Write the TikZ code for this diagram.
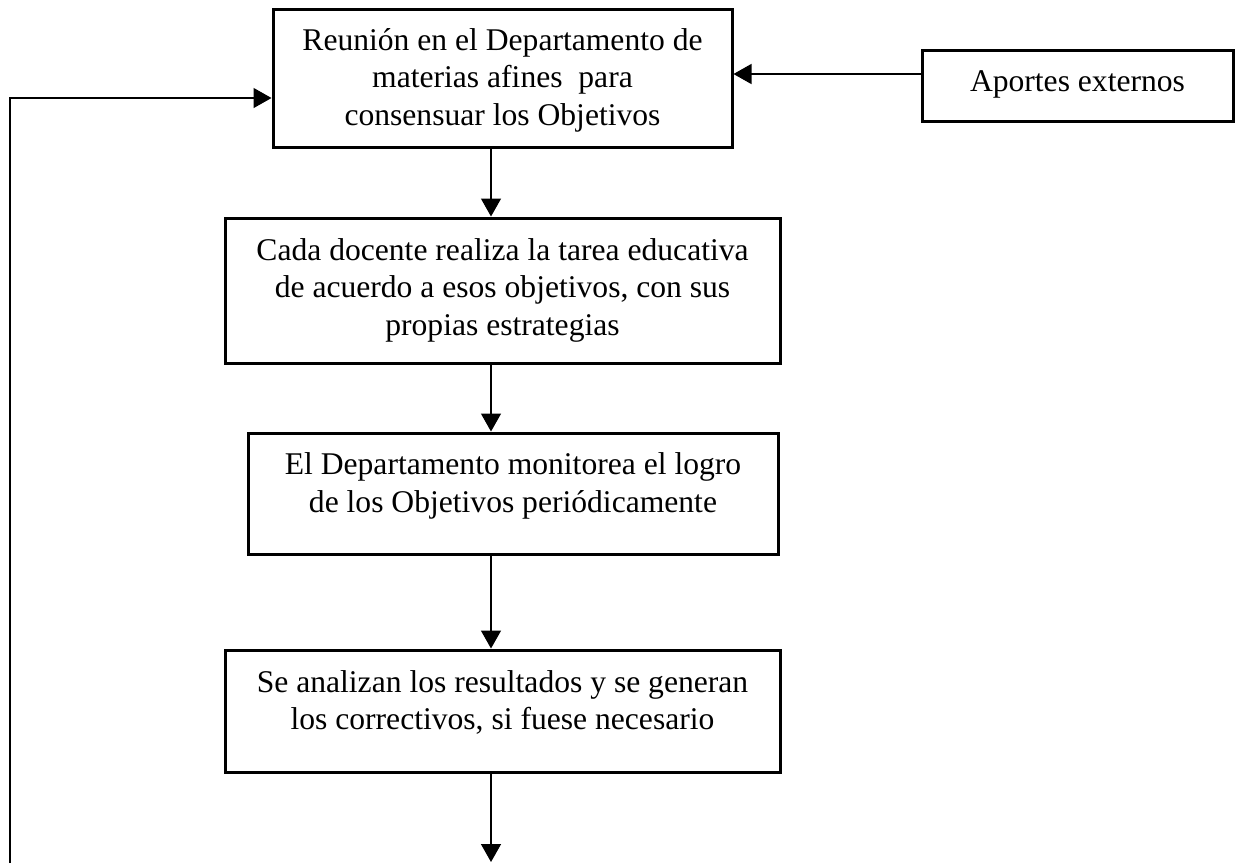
\documentclass[tikz,border=0pt]{standalone}
\usepackage{fontspec}
\setmainfont{Liberation Serif}
\usetikzlibrary{arrows.meta}
\begin{document}
\begin{tikzpicture}[x=1pt,y=-1pt,
  box/.style={draw=black,line width=3pt,rectangle,inner sep=0pt},
  txt/.style={align=center,inner sep=0pt,font=\fontsize{31.6}{37.5}\selectfont},
  arr/.style={line width=1.4pt,-{Triangle[length=18pt,width=20pt]}}]
\useasboundingbox (0,0) rectangle (1238,863);
% boxes
\node[box,minimum width=459pt,minimum height=138pt] (b1) at (502.5,78) {};
\node[txt] (t1) at (502.5,80) {Reunión en el Departamento de\\materias afines~ para\\consensuar los Objetivos};
\node[box,minimum width=311pt,minimum height=71pt] (ap) at (1077.5,85.5) {};
\node[txt] (tap) at (1077.5,84) {Aportes externos};
\node[box,minimum width=555pt,minimum height=145pt] (b2) at (502.5,290.5) {};
\node[txt] (t2) at (502.5,290) {Cada docente realiza la tarea educativa\\de acuerdo a esos objetivos, con sus\\propias estrategias};
\node[box,minimum width=530pt,minimum height=121pt] (b3) at (513,493.5) {};
\node[txt] (t3) at (513,486) {El Departamento monitorea el logro\\de los Objetivos periódicamente};
\node[box,minimum width=555pt,minimum height=122pt] (b4) at (502.5,711) {};
\node[txt] (t4) at (502.5,702.5) {Se analizan los resultados y se generan\\los correctivos, si fuese necesario};
% helper coordinates
\coordinate (ax) at (491,0);
\coordinate (hy) at (0,74);
\coordinate (fy) at (0,98);
\coordinate (fb) at (10,863);
\coordinate (endpt) at (491,862);
% connectors
\draw[arr] (ap.west |- hy) -- (b1.east |- hy);
\draw[arr] (b1.south -| ax) -- (b2.north -| ax);
\draw[arr] (b2.south -| ax) -- (b3.north -| ax);
\draw[arr] (b3.south -| ax) -- (b4.north -| ax);
\draw[arr] (b4.south -| ax) -- (endpt);
\draw[arr] (fb) |- (b1.west |- fy);
\end{tikzpicture}
\end{document}
